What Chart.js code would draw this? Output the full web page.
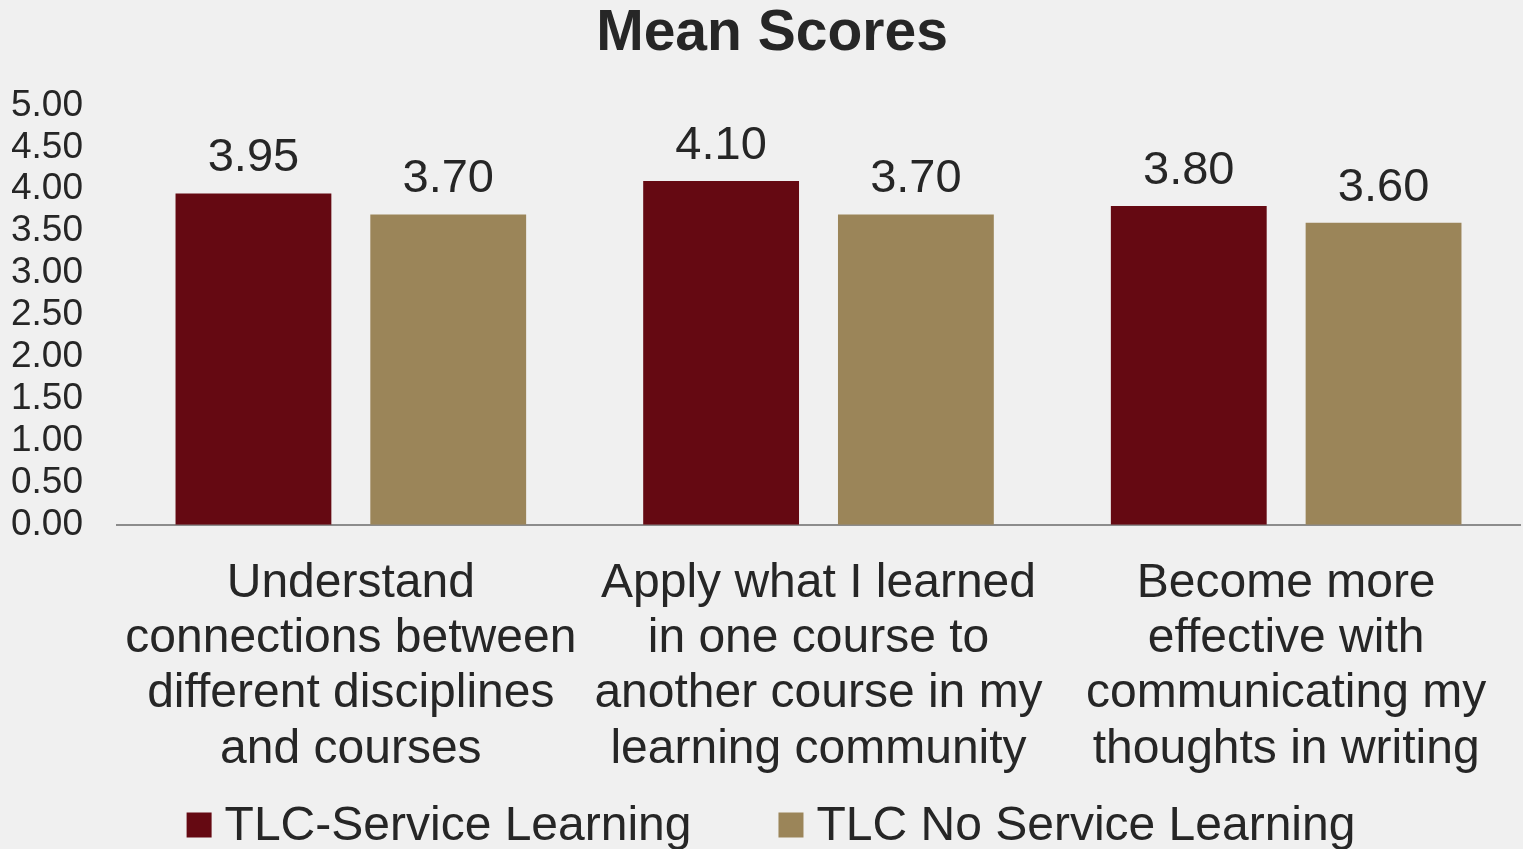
<!DOCTYPE html>
<html>
<head>
<meta charset="utf-8">
<script src="https://cdn.jsdelivr.net/npm/chart.js@4.4.1/dist/chart.umd.min.js"></script>
<style>
  html, body { margin: 0; padding: 0; background: #f0f0f0; }
  #wrap { width: 1523px; height: 849px; position: relative; }
</style>
</head>
<body>
<div id="wrap"><canvas id="chart"></canvas></div>
<script>
const categories = [
  ["Understand", "connections between", "different disciplines", "and courses"],
  ["Apply what I learned", "in one course to", "another course in my", "learning community"],
  ["Become more", "effective with", "communicating my", "thoughts in writing"],
];
const serviceLearning = [3.95, 4.1, 3.8];
const noServiceLearning = [3.7, 3.7, 3.6];
const seriesNames = ["TLC-Service Learning", "TLC No Service Learning"];
const seriesColors = ["#650912", "#9b8559"];
const yTicks = [0, 0.5, 1, 1.5, 2, 2.5, 3, 3.5, 4, 4.5, 5];

const FONT = "'Liberation Sans', Arial, sans-serif";
const TEXT = "#262626";

// draws the value above each bar
const valueLabels = {
  id: "valueLabels",
  afterDatasetsDraw(chart) {
    const ctx = chart.ctx;
    ctx.save();
    ctx.font = "47px " + FONT;
    ctx.fillStyle = TEXT;
    ctx.textAlign = "center";
    ctx.textBaseline = "alphabetic";
    chart.data.datasets.forEach((ds, i) => {
      chart.getDatasetMeta(i).data.forEach((bar, j) => {
        ctx.fillText(ds.data[j].toFixed(2), bar.x, bar.y - 22);
      });
    });
    ctx.restore();
  },
};

// legend at the bottom, spaced like the original (built-in legend can't do the gaps)
const bottomLegend = {
  id: "bottomLegend",
  afterLayout(chart) {
    // title in the original sits a bit right of the canvas centre
    if (chart.titleBlock) chart.titleBlock.left = 24;
  },
  afterDraw(chart) {
    const ctx = chart.ctx;
    const box = 25, gap = 13, itemGap = 87, cy = 825, center = 771;
    ctx.save();
    ctx.font = "48px " + FONT;
    ctx.textBaseline = "middle";
    const items = chart.data.datasets.map((ds) => ({
      text: ds.label,
      color: ds.backgroundColor,
      w: ctx.measureText(ds.label).width,
    }));
    let total = items.reduce((s, it) => s + box + gap + it.w, 0) + itemGap * (items.length - 1);
    let x = center - total / 2;
    items.forEach((it) => {
      ctx.fillStyle = it.color;
      ctx.fillRect(x, cy - box / 2, box, box);
      ctx.fillStyle = TEXT;
      ctx.fillText(it.text, x + box + gap, cy + 2);
      x += box + gap + it.w + itemGap;
    });
    ctx.restore();
  },
};

const ctx = document.getElementById("chart").getContext("2d");
new Chart(ctx, {
  type: "bar",
  data: {
    labels: categories,
    datasets: [
      {
        label: seriesNames[0],
        data: serviceLearning,
        backgroundColor: seriesColors[0],
      },
      {
        label: seriesNames[1],
        data: noServiceLearning,
        backgroundColor: seriesColors[1],
      },
    ],
  },
  options: {
    responsive: true,
    maintainAspectRatio: false,
    animation: false,
    categoryPercentage: 0.833,
    barPercentage: 0.8,
    layout: { padding: { left: 12, right: 3, top: 0, bottom: 41 } },
    scales: {
      x: {
        grid: { display: false, drawTicks: false },
        border: { display: true, color: "#8c8c8c", width: 2 },
        ticks: {
          font: { family: FONT, size: 48, lineHeight: 1.152 },
          color: TEXT,
          padding: 31,
          maxRotation: 0,
          autoSkip: false,
        },
      },
      y: {
        min: 0,
        max: 5,
        afterBuildTicks: (axis) => {
          axis.ticks = yTicks.map((v) => ({ value: v }));
        },
        afterFit: (axis) => {
          axis.width = 105;
        },
        grid: { display: false, drawTicks: false },
        border: { display: false },
        ticks: {
          font: { family: FONT, size: 37 },
          color: TEXT,
          padding: 34,
          autoSkip: false,
          callback: (v) => Number(v).toFixed(2),
        },
      },
    },
    plugins: {
      title: {
        display: true,
        text: "Mean Scores",
        color: TEXT,
        font: { family: FONT, size: 57, weight: "bold", lineHeight: 1.2 },
        padding: { top: 0, bottom: 37 },
      },
      legend: { display: false },
      tooltip: { enabled: false },
    },
  },
  plugins: [valueLabels, bottomLegend],
});
</script>
</body>
</html>
